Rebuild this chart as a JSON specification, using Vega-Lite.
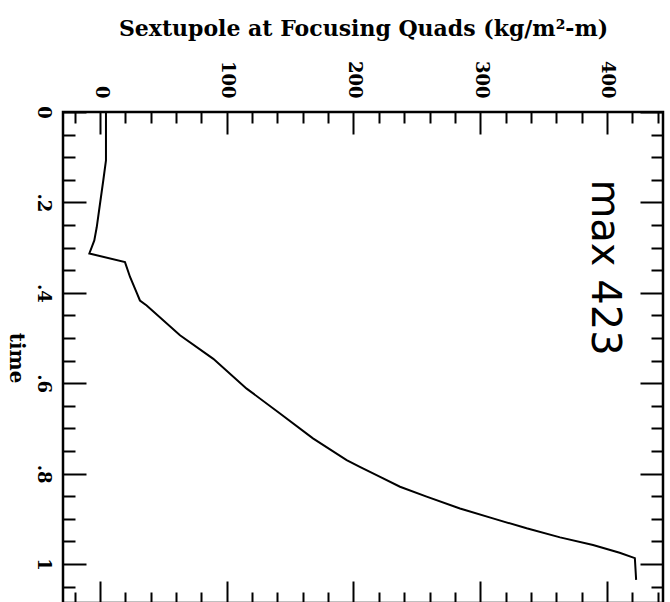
{
  "$schema": "https://vega.github.io/schema/vega-lite/v6.json",
  "width": 600,
  "height": 491,
  "autosize": "none",
  "padding": {"left": 63, "top": 112, "right": 7, "bottom": 0},
  "background": "white",
  "config": {
    "view": {"stroke": "black", "strokeWidth": 2.5},
    "axis": {
      "domain": false,
      "grid": false,
      "tickColor": "black",
      "tickWidth": 2,
      "labelColor": "black",
      "titleColor": "black",
      "labelFont": "DejaVu Serif",
      "labelFontWeight": "bold",
      "labelFontSize": 18,
      "titleFont": "DejaVu Serif",
      "titleFontWeight": "bold",
      "titleFontSize": 20
    }
  },
  "datasets": {
    "curve": [
      {"t": 0.0, "v": 4.7},
      {"t": 0.05, "v": 4.7},
      {"t": 0.107, "v": 4.7},
      {"t": 0.151, "v": 2.6},
      {"t": 0.203, "v": 0.0},
      {"t": 0.255, "v": -2.6},
      {"t": 0.284, "v": -4.5},
      {"t": 0.313, "v": -8.4},
      {"t": 0.332, "v": 19.7},
      {"t": 0.365, "v": 23.7},
      {"t": 0.4, "v": 29.0},
      {"t": 0.417, "v": 31.5},
      {"t": 0.428, "v": 36.8},
      {"t": 0.494, "v": 63.1},
      {"t": 0.546, "v": 89.4},
      {"t": 0.612, "v": 115.7},
      {"t": 0.667, "v": 142.0},
      {"t": 0.722, "v": 168.0},
      {"t": 0.77, "v": 194.6},
      {"t": 0.785, "v": 205.0},
      {"t": 0.807, "v": 221.0},
      {"t": 0.829, "v": 236.7},
      {"t": 0.851, "v": 257.7},
      {"t": 0.877, "v": 284.0},
      {"t": 0.899, "v": 310.0},
      {"t": 0.921, "v": 336.6},
      {"t": 0.941, "v": 363.0},
      {"t": 0.958, "v": 389.0},
      {"t": 0.975, "v": 410.0},
      {"t": 0.987, "v": 422.0},
      {"t": 1.035, "v": 423.0}
    ],
    "note": [
      {"t": 0.344, "v": 398, "label": "max 423"}
    ]
  },
  "layer": [
    {
      "data": {"name": "curve"},
      "mark": {"type": "line", "color": "black", "strokeWidth": 2, "clip": true},
      "encoding": {
        "x": {
          "field": "v",
          "type": "quantitative",
          "scale": {"domain": [-29.2, 444.2], "nice": false, "zero": false},
          "axis": {
            "orient": "top",
            "values": [-20, 0, 20, 40, 60, 80, 100, 120, 140, 160, 180, 200, 220, 240, 260, 280, 300, 320, 340, 360, 380, 400, 420, 440],
            "tickSize": {"condition": {"test": "datum.value % 100 === 0", "value": -22}, "value": -11},
            "labelExpr": "datum.value % 100 === 0 ? datum.label : ''",
            "labelAngle": 90,
            "labelPadding": 36,
            "title": "Sextupole at Focusing Quads (kg/m²-m)",
            "titleFontSize": 22,
            "titlePadding": 20
          }
        },
        "y": {
          "field": "t",
          "type": "quantitative",
          "scale": {"domain": [0, 1.0862], "nice": false, "zero": false, "reverse": true},
          "axis": {
            "orient": "left",
            "values": [0, 0.05, 0.1, 0.15, 0.2, 0.25, 0.3, 0.35, 0.4, 0.45, 0.5, 0.55, 0.6, 0.65, 0.7, 0.75, 0.8, 0.85, 0.9, 0.95, 1.0, 1.05],
            "tickSize": {"condition": {"test": "round(datum.value*20) % 4 === 0", "value": -23}, "value": -12},
            "labelExpr": "round(datum.value*20) % 4 === 0 ? replace(format(datum.value, '.1~f'), '0.', '.') : ''",
            "labelAngle": 90,
            "labelPadding": 35,
            "title": "time",
            "titleAngle": 90,
            "titleBaseline": "top",
            "titlePadding": 8
          }
        },
        "order": {"field": "t", "type": "quantitative"}
      }
    },
    {
      "data": {"name": "note"},
      "mark": {"type": "text", "angle": 90, "font": "DejaVu Sans", "fontSize": 40, "color": "black", "align": "center", "baseline": "middle"},
      "encoding": {
        "x": {
          "field": "v",
          "type": "quantitative",
          "scale": {"domain": [-29.2, 444.2], "nice": false, "zero": false},
          "axis": {
            "orient": "bottom",
            "values": [-20, 0, 20, 40, 60, 80, 100, 120, 140, 160, 180, 200, 220, 240, 260, 280, 300, 320, 340, 360, 380, 400, 420, 440],
            "tickSize": {"condition": {"test": "datum.value % 100 === 0", "value": -22}, "value": -11},
            "labels": false,
            "title": null
          }
        },
        "y": {
          "field": "t",
          "type": "quantitative",
          "scale": {"domain": [0, 1.0862], "nice": false, "zero": false, "reverse": true},
          "axis": {
            "orient": "right",
            "values": [0, 0.05, 0.1, 0.15, 0.2, 0.25, 0.3, 0.35, 0.4, 0.45, 0.5, 0.55, 0.6, 0.65, 0.7, 0.75, 0.8, 0.85, 0.9, 0.95, 1.0, 1.05],
            "tickSize": {"condition": {"test": "round(datum.value*20) % 4 === 0", "value": -23}, "value": -12},
            "labels": false,
            "title": null
          }
        },
        "text": {"field": "label", "type": "nominal"}
      }
    }
  ],
  "resolve": {"axis": {"x": "independent", "y": "independent"}}
}
